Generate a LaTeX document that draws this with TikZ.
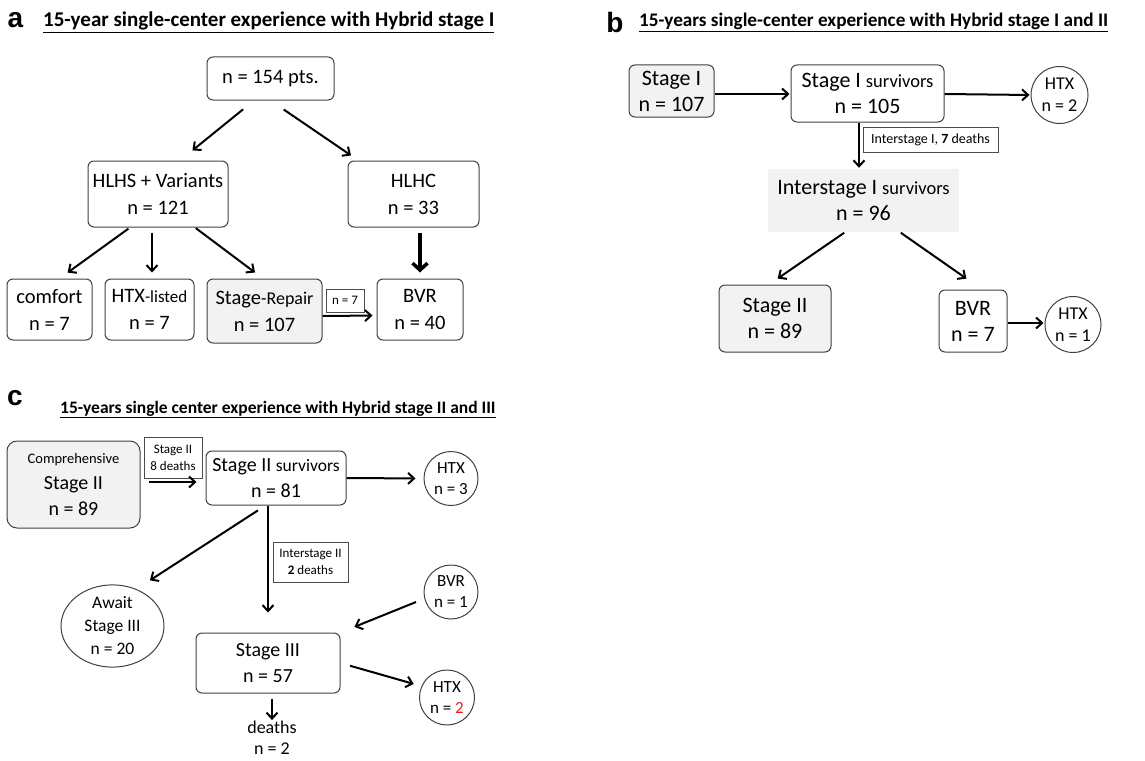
\documentclass[tikz,border=0pt]{standalone}
\usepackage{fontspec}
\setmainfont{Carlito}
\newfontfamily\panelfont{Liberation Sans}
\usetikzlibrary{arrows.meta,shapes.geometric,positioning}
\definecolor{boxgrey}{RGB}{242,242,242}
\definecolor{numred}{RGB}{232,28,36}
\newcommand{\sz}[2]{\fontsize{#1}{#2}\selectfont}

\begin{document}
\begin{tikzpicture}
    [x=1pt, y=-1pt,
    arr/.style={-{Straight Barb[length=6pt, width=11pt]}, line width=2pt},
    box/.style={draw=black!75, line width=1pt, rounded corners=6pt, align=center, inner sep=1pt},
    greybox/.style={box, fill=boxgrey},
    htx/.style={draw=black!75, line width=1pt, circle, align=center, inner sep=0pt, font=\sz{17}{21}},
    tag/.style={draw=black!70, line width=0.8pt, align=center, inner sep=2pt, font=\sz{13}{16}},
    letter/.style={font=\panelfont\bfseries\sz{28}{30}, inner sep=0pt},
    heading/.style={font=\bfseries\sz{17}{20}, inner sep=0pt, anchor=base west}]
    \useasboundingbox (0,0) rectangle (1145,760);

    %% Panel a
    \node[letter] (la) at (15.5,20) {a};
    \node[heading, font=\bfseries\sz{21}{24}] (ha) at (43,27) {\underline{15-year single-center experience with Hybrid stage I}};
    \begin{scope}[font=\sz{20.5}{27}]
        \node[box, minimum width=127pt, minimum height=43pt] (top) at (270.5,78.5) {n = 154 pts.};
        \node[box, minimum width=140pt, minimum height=66pt] (hlhs) at (158,194) {HLHS + Variants\\n = 121};
        \node[box, minimum width=131pt, minimum height=66pt] (hlhc) at (413.5,194) {HLHC\\n = 33};
        \node[box, minimum width=85pt, minimum height=61pt] (comfort) at (49.5,309.5) {comfort\\n = 7};
        \node[box, minimum width=89pt, minimum height=61pt] (htxl) at (149.5,309.5) {HTX{\sz{17}{27}-listed}\\n = 7};
        \node[greybox, minimum width=115pt, minimum height=64pt] (repair) at (264.5,311) {Stage{\sz{18}{27}-Repair}\\n = 107};
        \node[box, minimum width=86pt, minimum height=61pt] (bvra) at (420,309.5) {BVR\\n = 40};
    \end{scope}
    \node[tag, minimum width=38pt, minimum height=23pt] (n7) at (345,300.5) {n = 7};

    \draw[arr, shorten <=14pt, shorten >=16pt] ([xshift=-16.5pt]top.south) to ([xshift=22pt]hlhs.north);
    \draw[arr, shorten <=16pt, shorten >=9pt] (top.south) to ([xshift=-55pt]hlhc.north);
    \draw[arr, shorten <=2pt, shorten >=10pt] ([xshift=-28pt]hlhs.south) to ([xshift=10pt]comfort.north);
    \draw[arr, shorten <=5pt, shorten >=6pt] ([xshift=-6pt]hlhs.south) to ([xshift=2.5pt]htxl.north);
    \draw[arr, shorten <=1pt, shorten >=10pt] ([xshift=37pt]hlhs.south) to ([xshift=-1.5pt]repair.north);
    \draw[arr, line width=3.5pt, -{Straight Barb[length=7pt, width=15pt]}, shorten <=5pt, shorten >=6pt] ([xshift=6.5pt]hlhc.south) to (bvra.north);
    \draw[arr, shorten >=4pt] ([yshift=-5pt]repair.east) to ([yshift=-6pt]bvra.west);

    %% Panel b
    \node[letter] (lb) at (615,22) {b};
    \node[heading, font=\bfseries\sz{19.2}{22}] (hb) at (639,27) {\underline{15-years single-center experience with Hybrid stage I and II}};
    \begin{scope}[font=\sz{22}{26}]
        \node[greybox, minimum width=85pt, minimum height=52pt] (s1) at (671.5,91) {Stage I\\n = 107};
        \node[box, minimum width=153pt, minimum height=57pt] (s1s) at (867.5,93.5) {Stage I {\sz{18.5}{26}survivors}\\n = 105};
        \node[fill=boxgrey, align=center, minimum width=191pt, minimum height=63pt] (is1) at (863.5,200.5) {Interstage I {\sz{18.5}{27}survivors}\\n = 96};
        \node[greybox, minimum width=112pt, minimum height=67pt] (s2) at (775,318.5) {Stage II\\n = 89};
        \node[box, minimum width=68pt, minimum height=62pt] (bvrb) at (973,321) {BVR\\n = 7};
    \end{scope}
    \node[htx, minimum size=57pt, font=\sz{18}{22}] (htx2) at (1059.5,95) {HTX\\n = 2};
    \node[htx, minimum size=56pt, font=\sz{18}{22}] (htx1) at (1073,324.5) {HTX\\n = 1};
    \node[tag, minimum width=135pt, minimum height=25pt, font=\sz{14}{16}] (t1) at (930.5,139.5) {Interstage I, \textbf{7} deaths};

    \draw[arr, shorten >=1pt] ([yshift=-3pt]s1.east) to ([yshift=-0.5pt]s1s.west);
    \draw[arr, shorten >=1pt] ([yshift=-0.5pt]s1s.east) to (htx2.west);
    \draw[arr, shorten >=1pt] ([xshift=-8.5pt]s1s.south) to ([xshift=-4.5pt]is1.north);
    \draw[arr, shorten <=1pt, shorten >=10.5pt] ([xshift=-18.5pt]is1.south) to ([xshift=-6pt]s2.north);
    \draw[arr, shorten <=1pt, shorten >=19pt] ([xshift=36.5pt]is1.south) to ([xshift=9pt]bvrb.north);
    \draw[arr, shorten >=1pt] ([yshift=-2pt]bvrb.east) to ([yshift=1.5pt]htx1.west);

    %% Panel c
    \node[letter] (lc) at (15,398) {c};
    \node[heading, font=\bfseries\sz{17.5}{20}] (hc) at (60,413) {\underline{15-years single center experience with Hybrid stage II and III}};
    \begin{scope}[font=\sz{20}{26}]
        \node[greybox, rounded corners=10pt, minimum width=133pt, minimum height=87pt] (comp) at (73.5,484.5) {{\sz{14.5}{25}Comprehensive}\\Stage II\\n = 89};
        \node[box, minimum width=140pt, minimum height=54pt] (s2s) at (276,478) {Stage II {\sz{17.5}{26}survivors}\\n = 81};
        \node[box, minimum width=144pt, minimum height=60pt] (s3) at (268,663) {Stage III\\n = 57};
    \end{scope}
    \node[tag, minimum width=58pt, minimum height=41pt, font=\sz{13}{17}] (t2) at (173,457.5) {Stage II\\8 deaths};
    \node[tag, minimum width=75pt, minimum height=40pt, font=\sz{13}{17}] (t3) at (310.5,562) {Interstage II\\\textbf{2} deaths};
    \node[draw=black!75, line width=1pt, ellipse, align=center, inner sep=0pt, minimum width=103pt, minimum height=78pt, font=\sz{17.5}{23}] (await) at (112.5,626) {Await\\Stage III\\n = 20};
    \node[htx, minimum size=54pt] (htx3) at (451,478.5) {HTX\\n = 3};
    \node[htx, minimum size=54pt] (bvrc) at (451,592) {BVR\\n = 1};
    \node[htx, minimum size=55pt] (htx2c) at (447,697.5) {HTX\\n = \textcolor{numred}{2}};
    \node[align=center, inner sep=0pt, font=\sz{18}{21}] (deaths) at (272,738) {deaths\\n = 2};

    \draw[arr, shorten <=8pt, shorten >=9pt] ([yshift=2.5pt]comp.east) to ([yshift=-4pt]s2s.west);
    \draw[arr, shorten >=8pt] (s2s.east) to (htx3.west);
    \draw[arr, shorten <=9pt, shorten >=16pt] ([xshift=-10.5pt]s2s.south) to (await.57);
    \draw[arr, shorten >=20pt] ([xshift=-8pt]s2s.south) to (s3.north);
    \draw[arr, shorten <=9pt, shorten >=15pt] (bvrc.194) to (s3.north east);
    \draw[arr, shorten <=10pt, shorten >=8pt] (s3.east) to (htx2c.156);
    \draw[arr, shorten <=5pt, shorten >=1pt] ([xshift=4pt]s3.south) to (deaths.north);
\end{tikzpicture}
\end{document}
